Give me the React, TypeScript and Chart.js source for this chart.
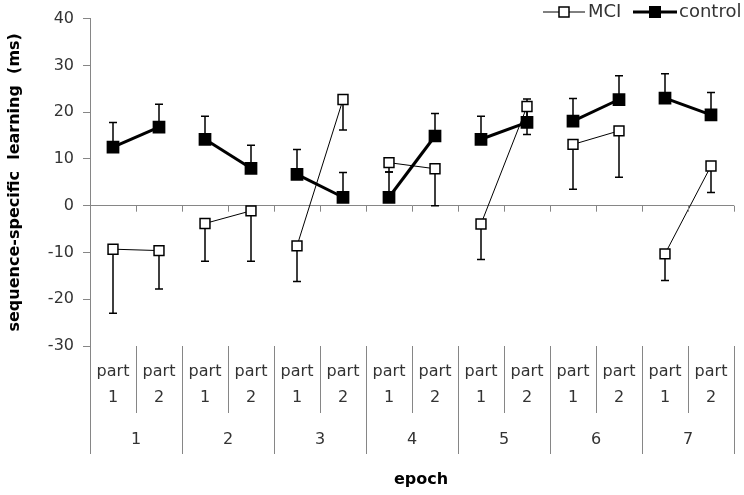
import React, { useEffect, useRef } from "react";
import { Chart, registerables } from "chart.js";

Chart.register(...registerables);

// data
const epochs = ["1", "2", "3", "4", "5", "6", "7"];
const parts = ["1", "2"];
const categories = epochs.flatMap((e) => parts.map((p) => `${e}-${p}`));
const mciMeans = [-9.3, -9.6, -3.8, -1.1, -8.6, 22.7, 9.2, 7.9, -3.9, 21.2, 13.1, 16.0, -10.3, 8.5];
const mciErr = [13.7, 8.2, 8.1, 10.8, 7.6, 6.5, 2.0, 7.9, 7.6, 6.0, 9.6, 9.9, 5.7, 5.7];
const controlMeans = [12.5, 16.8, 14.2, 8.0, 6.7, 1.8, 1.8, 14.9, 14.2, 17.8, 18.1, 22.7, 23.0, 19.4];
const controlErr = [5.3, 4.9, 4.9, 4.9, 5.3, 5.3, 5.4, 4.8, 4.9, 5.0, 4.8, 5.1, 5.2, 4.8];
const yMin = -30;
const yMax = 40;
const yStep = 10;

const FONT = "'DejaVu Sans', sans-serif";
const AXIS = "#868686";
const TEXT = "#333";

// error bars: MCI hangs down, control points up
const errorBars = {
  id: "errorBars",
  beforeDatasetsDraw(chart: any) {
    const { ctx, scales } = chart;
    const x = scales.x;
    const y = scales.y;
    ctx.save();
    ctx.strokeStyle = "#000";
    ctx.lineWidth = 1.5;
    const draw = (means: number[], errs: number[], dir: number) => {
      means.forEach((m, i) => {
        const px = x.getPixelForValue(i);
        const y0 = y.getPixelForValue(m);
        const y1 = y.getPixelForValue(m + dir * errs[i]);
        ctx.beginPath();
        ctx.moveTo(px, y0);
        ctx.lineTo(px, y1);
        ctx.moveTo(px - 4, y1);
        ctx.lineTo(px + 4, y1);
        ctx.stroke();
      });
    };
    draw(mciMeans, mciErr, -1);
    draw(controlMeans, controlErr, 1);
    ctx.restore();
  },
};

// two level category axis + legend, drawn by hand
const groupedAxis = {
  id: "groupedAxis",
  afterDraw(chart: any) {
    const { ctx, chartArea, scales } = chart;
    const x = scales.x;
    const y = scales.y;
    const n = categories.length;
    const band = (chartArea.right - chartArea.left) / n;
    const zero = y.getPixelForValue(0);
    const bottom = chartArea.bottom;

    ctx.save();
    ctx.strokeStyle = AXIS;
    ctx.lineWidth = 1;
    for (let i = 0; i <= n; i++) {
      const bx = Math.round(chartArea.left + i * band) + 0.5;
      // small ticks under the zero line
      ctx.beginPath();
      ctx.moveTo(bx, zero);
      ctx.lineTo(bx, zero + 6);
      ctx.stroke();
      // separators under the plot
      ctx.beginPath();
      ctx.moveTo(bx, bottom);
      ctx.lineTo(bx, bottom + (i % 2 === 0 ? 108 : 67));
      ctx.stroke();
    }

    ctx.fillStyle = TEXT;
    ctx.textAlign = "center";
    ctx.textBaseline = "middle";
    ctx.font = `16px ${FONT}`;
    categories.forEach((c, i) => {
      const px = x.getPixelForValue(i);
      ctx.fillText("part", px, bottom + 26);
      ctx.fillText(parts[i % 2], px, bottom + 52);
    });
    epochs.forEach((e, i) => {
      const px = chartArea.left + (i * 2 + 1) * band;
      ctx.fillText(e, px, bottom + 94);
    });
    ctx.fillStyle = "#000";
    ctx.font = `bold 16px ${FONT}`;
    ctx.fillText("epoch", 421, bottom + 134);

    // legend
    const ly = 12;
    ctx.strokeStyle = "#000";
    ctx.lineWidth = 1;
    ctx.beginPath();
    ctx.moveTo(543, ly);
    ctx.lineTo(585, ly);
    ctx.stroke();
    ctx.fillStyle = "#fff";
    ctx.fillRect(559, ly - 5, 10, 10);
    ctx.lineWidth = 1.5;
    ctx.strokeRect(559, ly - 5, 10, 10);
    ctx.lineWidth = 3;
    ctx.beginPath();
    ctx.moveTo(633, ly);
    ctx.lineTo(677, ly);
    ctx.stroke();
    ctx.fillStyle = "#000";
    ctx.fillRect(649, ly - 6, 12, 12);
    ctx.fillStyle = TEXT;
    ctx.textAlign = "left";
    ctx.font = `18px ${FONT}`;
    ctx.fillText("MCI", 588, ly);
    ctx.fillText("control", 679, ly);
    ctx.restore();
  },
};

const App: React.FC = () => {
  const chartRef = useRef<HTMLCanvasElement>(null);
  const chartInstance = useRef<Chart | null>(null);

  useEffect(() => {
    document.body.style.margin = "0";
    if (chartRef.current) {
      const ctx = chartRef.current.getContext("2d");
      if (ctx) {
        chartInstance.current = new Chart(ctx, {
          type: "line",
          data: {
            labels: categories,
            datasets: [
              {
                label: "MCI",
                data: mciMeans,
                borderColor: "#000",
                borderWidth: 1,
                pointStyle: "rect",
                pointRadius: 7,
                pointBorderWidth: 1.5,
                pointBackgroundColor: "#fff",
                pointBorderColor: "#000",
                segment: {
                  // only join the two parts of the same epoch
                  borderColor: (c: any) => (c.p0DataIndex % 2 === 1 ? "transparent" : "#000"),
                },
              },
              {
                label: "control",
                data: controlMeans,
                borderColor: "#000",
                borderWidth: 3,
                pointStyle: "rect",
                pointRadius: 9,
                pointBorderWidth: 0,
                pointBackgroundColor: "#000",
                segment: {
                  borderColor: (c: any) => (c.p0DataIndex % 2 === 1 ? "transparent" : "#000"),
                },
              },
            ],
          },
          options: {
            animation: false,
            responsive: true,
            maintainAspectRatio: false,
            layout: { padding: { top: 17, right: 10, bottom: 149, left: 0 } },
            scales: {
              x: {
                type: "category",
                display: false,
                offset: true,
              },
              y: {
                min: yMin,
                max: yMax,
                afterFit: (scale: any) => {
                  scale.width = 90;
                },
                ticks: {
                  stepSize: yStep,
                  color: TEXT,
                  padding: 9,
                  font: { family: FONT, size: 16 },
                },
                grid: {
                  color: (c: any) => (c.tick && c.tick.value === 0 ? AXIS : "transparent"),
                  tickColor: AXIS,
                  tickLength: 7,
                },
                border: { display: true, color: AXIS },
                title: {
                  display: true,
                  text: "sequence-specific  learning  (ms)",
                  color: "#000",
                  font: { family: FONT, size: 16, weight: "bold" },
                  padding: { top: 5, bottom: 0 },
                },
              },
            },
            plugins: {
              legend: { display: false },
              tooltip: { enabled: false },
            },
          },
          plugins: [errorBars, groupedAxis],
        });
      }
    }

    return () => {
      if (chartInstance.current) {
        chartInstance.current.destroy();
      }
    };
  }, []);

  return (
    <div style={{ width: 744, height: 495, position: "relative" }}>
      <canvas ref={chartRef} />
    </div>
  );
};

export default App;
